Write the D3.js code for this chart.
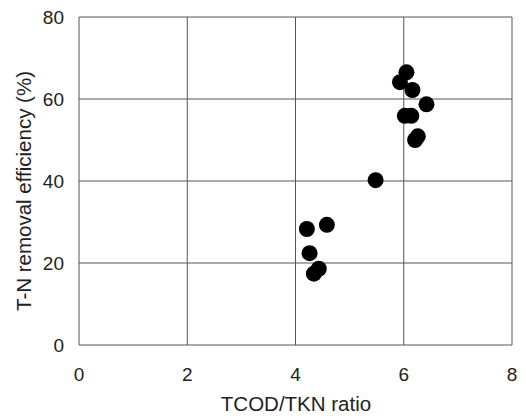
<!DOCTYPE html>
<html>
<head>
<meta charset="utf-8">
<style>
    body { margin: 0; background: #fff; }
    svg { display: block; font-family: 'Liberation Sans', Arial, sans-serif; }
    .grid line { stroke: #555; stroke-width: 1; }
    .tick-label { font-size: 19px; fill: #222; }
    .axis-label { font-size: 20.5px; fill: #222; }
</style>
</head>
<body>
<svg width="524" height="417"></svg>
<script src="https://d3js.org/d3.v7.min.js"></script>
<script>
    // TCOD/TKN ratio vs T-N removal efficiency (%)
    let ratio = [4.21, 4.58, 4.26, 4.34, 4.43, 5.48, 6.05, 5.93, 6.16, 6.42, 6.02, 6.14, 6.21, 6.26];
    let efficiency = [28.3, 29.3, 22.4, 17.4, 18.6, 40.2, 66.5, 64.1, 62.2, 58.7, 55.9, 55.9, 50.0, 50.9];
    let xTicks = [0, 2, 4, 6, 8];
    let yTicks = [0, 20, 40, 60, 80];

    let svg = d3.select("svg");
    let margin = { top: 17, right: 12, bottom: 72, left: 79 };
    let width = 524, height = 417;

    let x = d3.scaleLinear().domain([0, 8]).range([margin.left, width - margin.right]);
    let y = d3.scaleLinear().domain([0, 80]).range([height - margin.bottom, margin.top]);

    let grid = svg.append("g").attr("class", "grid");

    grid.selectAll(".vx")
        .data(xTicks)
        .join("line")
        .attr("x1", d => x(d)).attr("x2", d => x(d))
        .attr("y1", y(0)).attr("y2", y(80));

    grid.selectAll(".hy")
        .data(yTicks)
        .join("line")
        .attr("x1", x(0)).attr("x2", x(8))
        .attr("y1", d => y(d)).attr("y2", d => y(d));

    svg.append("g")
        .selectAll("text")
        .data(xTicks)
        .join("text")
        .attr("class", "tick-label")
        .attr("x", d => x(d))
        .attr("y", y(0) + 36)
        .attr("text-anchor", "middle")
        .text(d => d);

    svg.append("g")
        .selectAll("text")
        .data(yTicks)
        .join("text")
        .attr("class", "tick-label")
        .attr("x", x(0) - 15)
        .attr("y", d => y(d) + 7)
        .attr("text-anchor", "end")
        .text(d => d);

    svg.append("g")
        .selectAll("circle")
        .data(ratio.map((r, i) => [r, efficiency[i]]))
        .join("circle")
        .attr("cx", d => x(d[0]))
        .attr("cy", d => y(d[1]))
        .attr("r", 8)
        .attr("fill", "#000");

    svg.append("text")
        .attr("class", "axis-label")
        .attr("x", 296)
        .attr("y", 411)
        .attr("text-anchor", "middle")
        .text("TCOD/TKN ratio");

    svg.append("text")
        .attr("class", "axis-label")
        .attr("transform", "translate(31,191) rotate(-90)")
        .attr("text-anchor", "middle")
        .text("T-N removal efficiency (%)");
</script>
</body>
</html>
